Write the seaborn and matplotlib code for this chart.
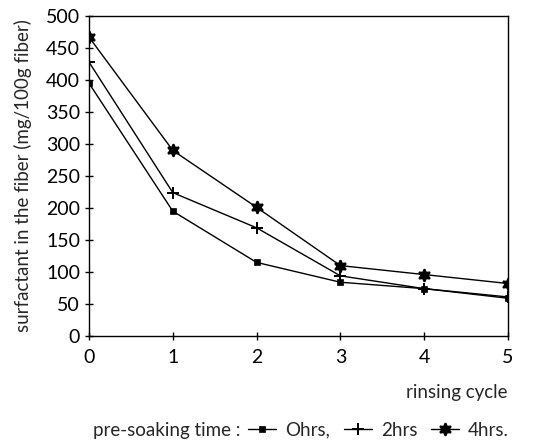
import matplotlib
matplotlib.use("Agg")
import matplotlib.pyplot as plt
import seaborn as sns
import pandas as pd

cycles = [0, 1, 2, 3, 4, 5]
hrs0 = [395, 195, 115, 84, 74, 59]
hrs2 = [428, 224, 169, 94, 74, 61]
hrs4 = [467, 290, 201, 110, 96, 82]
series_names = ["Ohrs,", "2hrs", "4hrs."]
y_ticks = [0, 50, 100, 150, 200, 250, 300, 350, 400, 450, 500]

rows = []
for name, vals in zip(series_names, [hrs0, hrs2, hrs4]):
    for c, v in zip(cycles, vals):
        rows.append({"cycle": c, "value": v, "series": name})
df = pd.DataFrame(rows)

sns.set_theme(style="ticks")
plt.rcParams["font.family"] = ["Lato", "DejaVu Sans"]

fig = plt.figure(figsize=(5.44, 4.40), dpi=100)
ax = fig.add_axes([89/544, 1 - 336/440, (508-89)/544, (336-16)/440])

markers = {"Ohrs,": "s", "2hrs": "+", "4hrs.": (6, 1, 0)}
sizes = {"Ohrs,": 5, "2hrs": 9, "4hrs.": 9}
for name in series_names:
    sub = df[df.series == name]
    sns.lineplot(data=sub, x="cycle", y="value", ax=ax, color="black",
                 marker=markers[name], markersize=sizes[name], linewidth=1.0,
                 markeredgewidth=1.4 if name != "Ohrs," else 0.5,
                 markeredgecolor="black", markerfacecolor="black", label=name)

ax.set_xlim(0, 5)
ax.set_ylim(0, 500)
ax.set_xticks(cycles)
ax.set_yticks(y_ticks)
ax.tick_params(axis="both", labelsize=14, direction="inout", length=6, width=1, colors="black")
ax.tick_params(axis="x", pad=6)
for s in ax.spines.values():
    s.set_visible(True)
    s.set_color("black")
    s.set_linewidth(1.0)
ax.set_xlabel("")
ax.set_ylabel("surfactant in the fiber (mg/100g fiber)", fontsize=13.5)
ax.yaxis.set_label_coords(-0.135, 0.5)

fig.text(508/544, 1 - 392/440, "rinsing cycle", ha="right", va="center", fontsize=13.5)

fig.text(93/544, 1 - 430/440, "pre-soaking time :", ha="left", va="center", fontsize=13.5)
ax.legend(loc="center left", bbox_to_anchor=(248/544, 1 - 430/440), bbox_transform=fig.transFigure,
          ncol=3, frameon=False, fontsize=13.5, handlelength=1.5, handletextpad=0.5,
          columnspacing=0.7, borderpad=0, borderaxespad=0)

fig.savefig("out.png", dpi=100)
